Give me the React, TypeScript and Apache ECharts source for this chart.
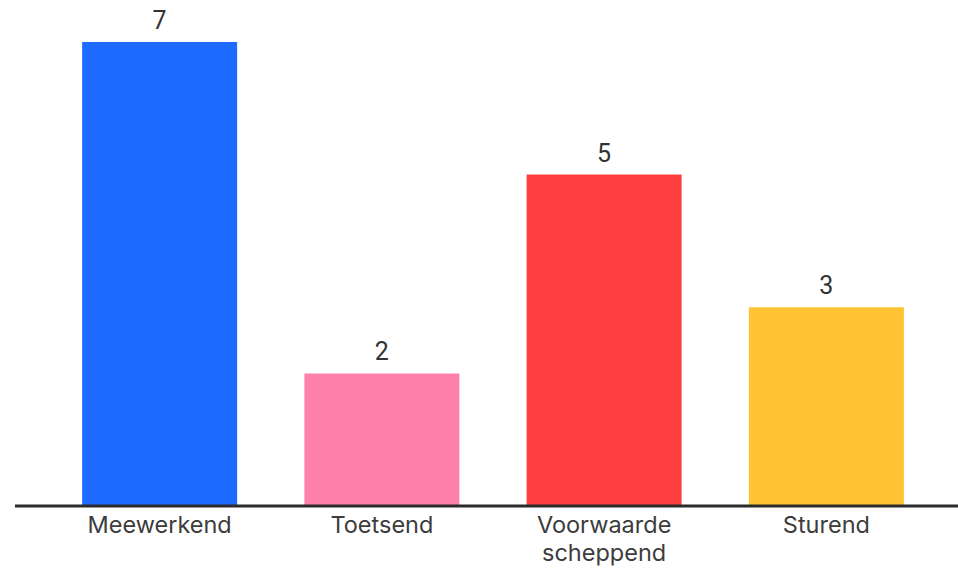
import React, { useEffect, useRef } from "react";
import * as echarts from "echarts";

const categories = ["Meewerkend", "Toetsend", "Voorwaarde\nscheppend", "Sturend"];
const values = [7, 2, 5, 3];
const colors = ["#1f6bff", "#ff80aa", "#ff3f3f", "#ffc333"];

export default function App() {
  const ref = useRef<HTMLDivElement>(null);
  useEffect(() => {
    const chart = echarts.init(ref.current!, null, { renderer: "svg" });
    chart.setOption({
      animation: false,
      backgroundColor: "#ffffff",
      grid: { left: 48.5, right: 20.5, top: 42, bottom: 64 },
      xAxis: {
        type: "category",
        data: categories,
        axisLine: { show: false },
        axisTick: { show: false },
        axisLabel: {
          color: "#3c3c3c",
          fontSize: 23.5,
          fontFamily: "Inter",
          margin: 4,
          lineHeight: 28.5,
          interval: 0,
        },
      },
      yAxis: { type: "value", min: 0, max: 7, show: false, splitLine: { show: false } },
      series: [
        {
          type: "bar",
          barWidth: 155,
          data: values.map((v, i) => ({ value: v, itemStyle: { color: colors[i] } })),
          label: {
            show: true,
            position: "top",
            distance: 9,
            color: "#333333",
            fontSize: 25,
            fontFamily: "Roboto",
          },
        },
      ],
      graphic: [
        {
          type: "line",
          shape: { x1: 15, y1: 506, x2: 958, y2: 506 },
          style: { stroke: "#2b2b2b", lineWidth: 3 },
          z: 10,
        },
      ],
    });
    return () => chart.dispose();
  }, []);
  return <div ref={ref} style={{ position: "fixed", left: 0, top: 0, width: 958, height: 570 }} />;
}
